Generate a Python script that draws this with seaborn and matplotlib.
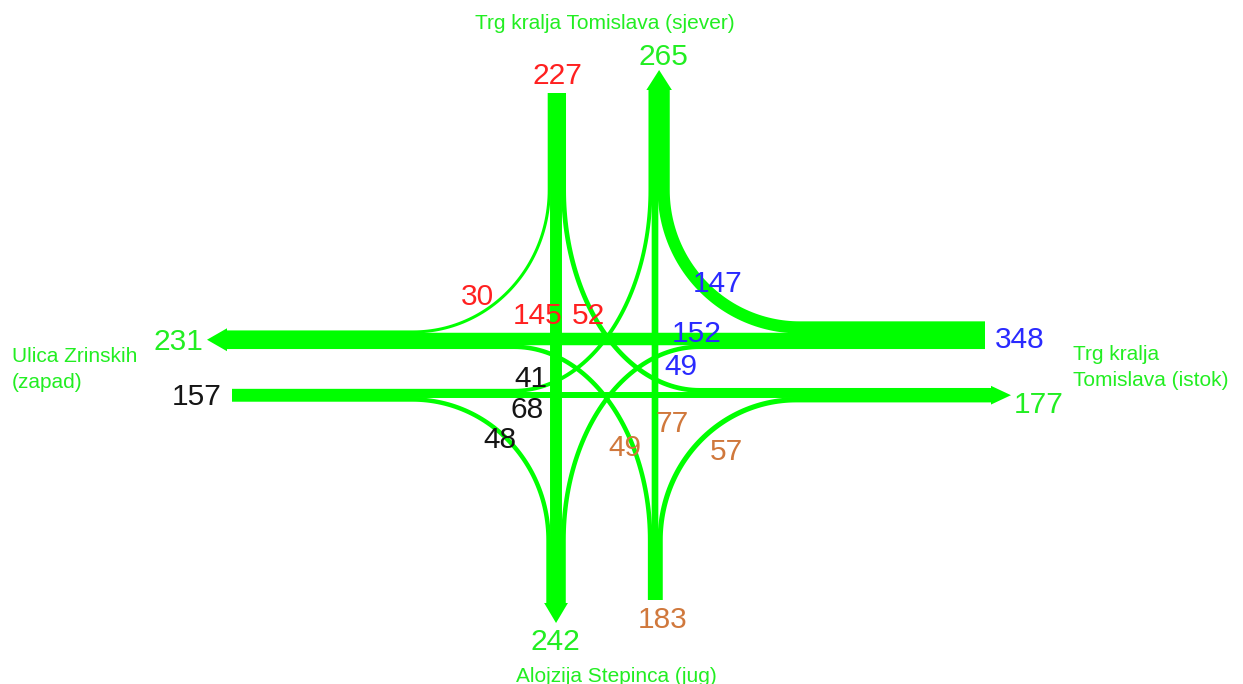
import numpy as np
import pandas as pd
import matplotlib
matplotlib.use("Agg")
import matplotlib.pyplot as plt
import seaborn as sns

sns.set_style("white")
plt.rcParams["font.family"] = ["Liberation Sans", "DejaVu Sans"]
plt.rcParams["lines.solid_capstyle"] = "butt"

# -----------------------------
# DATA (vehicles per approach / movement)
# -----------------------------
approaches = ["N", "E", "S", "W"]
inbound = [227, 348, 183, 157]
outbound = [265, 177, 242, 231]

# turning movements by origin: right, straight, left
north = [30, 145, 52]
east = [147, 152, 49]
south = [57, 77, 49]
west = [48, 68, 41]

GREEN = "#00ff00"
TXT_GREEN = "#22ee22"
origin_colors = {"N": "#ff2020", "E": "#2a2aff", "S": "#d0783c", "W": "#151515"}

# -----------------------------
# LAYOUT (pixel space, y downward)
# -----------------------------
PX = 0.0776          # px per vehicle
PT = 0.72            # points per px at dpi 100
EXTRA = 0.7 * PT     # small overlap so sub-bands merge
XL, XR, YU, YD = 556, 655, 339, 395
Y_CURVE = {"N": 190, "S": 540}
R_H = 136
END_IN = {"N": 93, "E": 985, "S": 600, "W": 232}
END_OUT = {"N": 90, "E": 991, "S": 603, "W": 227}
ARROW = 20


def w(f):
    return f * PX


vline = {"L": (XL, north[1]), "R": (XR, south[1])}
hline = {"U": (YU, east[1]), "D": (YD, west[1])}

# origin, dest, flow, vertical line/side, horizontal line/side
turns = [
    ("N", "W", north[0], "L", -1, "U", -1),
    ("N", "E", north[2], "L", 1, "D", -1),
    ("E", "N", east[0], "R", 1, "U", -1),
    ("E", "S", east[2], "L", 1, "U", 1),
    ("S", "E", south[0], "R", 1, "D", 1),
    ("S", "W", south[2], "R", -1, "U", 1),
    ("W", "S", west[0], "L", -1, "D", 1),
    ("W", "N", west[2], "R", -1, "D", -1),
]

rows = []
bands = {a: [] for a in approaches}   # lane extents at each outbound end


def add_path(mid, flow, xs, ys):
    for x, y in zip(xs, ys):
        rows.append({"mid": mid, "flow": flow, "x": x, "y": y})


# straight movements
add_path("NS", north[1], [XL, XL], [END_IN["N"], END_OUT["S"]])
add_path("SN", south[1], [XR, XR], [END_IN["S"], END_OUT["N"]])
add_path("EW", east[1], [END_IN["E"], END_OUT["W"]], [YU, YU])
add_path("WE", west[1], [END_IN["W"], END_OUT["E"]], [YD, YD])
bands["S"].append((XL, w(north[1])))
bands["N"].append((XR, w(south[1])))
bands["W"].append((YU, w(east[1])))
bands["E"].append((YD, w(west[1])))

t = np.linspace(0, np.pi / 2, 60)
for o, d, f, vl, vs, hl, hs in turns:
    X0, fs = vline[vl]
    Y0, fh = hline[hl]
    xv = X0 + vs * (w(fs) + w(f)) / 2
    yh = Y0 + hs * (w(fh) + w(f)) / 2
    V = o if o in ("N", "S") else d
    H = d if V == o else o
    yc = Y_CURVE[V]
    xh = xv + R_H * (1 if H == "E" else -1)
    v_end = END_IN[V] if V == o else END_OUT[V]
    h_end = END_IN[H] if H == o else END_OUT[H]
    xs = [xv, xv] + list(xh + (xv - xh) * np.cos(t)) + [h_end]
    ys = [v_end, yc] + list(yc + (yh - yc) * np.sin(t)) + [yh]
    add_path(o + d, f, xs, ys)
    bands[d].append((xv if d in ("N", "S") else yh, w(f)))

paths = pd.DataFrame(rows)

# -----------------------------
# PLOT
# -----------------------------
fig = plt.figure(figsize=(12.43, 6.84), dpi=100)
ax = fig.add_axes([0, 0, 1, 1])

fmin, fmax = paths["flow"].min(), paths["flow"].max()
sns.lineplot(data=paths, x="x", y="y", units="mid", estimator=None, sort=False,
             size="flow", size_norm=(fmin, fmax),
             sizes=(fmin * PX * PT + EXTRA, fmax * PX * PT + EXTRA),
             color=GREEN, legend=False, ax=ax, solid_capstyle="butt", snap=False)

# arrow heads on outbound bands
for a in approaches:
    lo = min(c - ww / 2 for c, ww in bands[a]) - 2.5
    hi = max(c + ww / 2 for c, ww in bands[a]) + 2.5
    mid = (lo + hi) / 2
    base = END_OUT[a]
    sgn = -1 if a in ("N", "W") else 1
    tip = base + sgn * ARROW
    if a in ("N", "S"):
        ax.fill([lo, hi, mid], [base, base, tip], color=GREEN, lw=0)
    else:
        ax.fill([base, base, tip], [lo, hi, mid], color=GREEN, lw=0)

NUM = 21.5
NAME = 15


def num(x, y, s, c):
    ax.text(x, y + 11, str(s), color=c, fontsize=NUM, ha="center", va="baseline")


# approach totals
num(557, 73, inbound[0], origin_colors["N"])
num(663, 54, outbound[0], TXT_GREEN)
num(1020, 337, inbound[1], origin_colors["E"])
num(1039, 402, outbound[1], TXT_GREEN)
num(663, 617, inbound[2], origin_colors["S"])
num(555, 639, outbound[2], TXT_GREEN)
num(197, 394, inbound[3], origin_colors["W"])
num(178, 339, outbound[3], TXT_GREEN)

# movement labels
num(477, 294, north[0], origin_colors["N"])
num(538, 313, north[1], origin_colors["N"])
num(588, 313, north[2], origin_colors["N"])
num(718, 281, east[0], origin_colors["E"])
num(697, 331, east[1], origin_colors["E"])
num(681, 364, east[2], origin_colors["E"])
num(726, 449, south[0], origin_colors["S"])
num(672, 421, south[1], origin_colors["S"])
num(625, 445, south[2], origin_colors["S"])
num(500, 437, west[0], origin_colors["W"])
num(527, 407, west[1], origin_colors["W"])
num(531, 376, west[2], origin_colors["W"])

# approach names
ax.text(605, 29, "Trg kralja Tomislava (sjever)", color=TXT_GREEN, fontsize=NAME, ha="center", va="baseline")
ax.text(616, 682, "Alojzija Stepinca (jug)", color=TXT_GREEN, fontsize=NAME, ha="center", va="baseline")
ax.text(12, 362, "Ulica Zrinskih", color=TXT_GREEN, fontsize=NAME, ha="left", va="baseline")
ax.text(12, 388, "(zapad)", color=TXT_GREEN, fontsize=NAME, ha="left", va="baseline")
ax.text(1073, 360, "Trg kralja", color=TXT_GREEN, fontsize=NAME, ha="left", va="baseline")
ax.text(1073, 386, "Tomislava (istok)", color=TXT_GREEN, fontsize=NAME, ha="left", va="baseline")

ax.set_xlim(0, 1243)
ax.set_ylim(684, 0)
ax.axis("off")

plt.savefig("out.png", dpi=100)
plt.close()
